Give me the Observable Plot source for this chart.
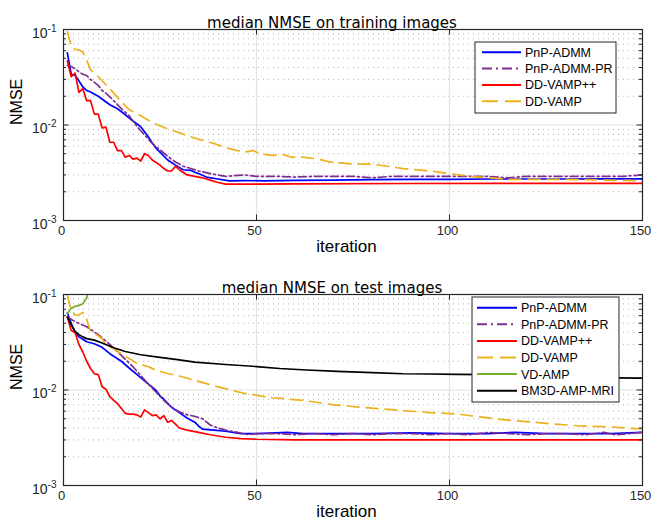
<!DOCTYPE html>
<html><head><meta charset="utf-8">
<script src="https://cdn.jsdelivr.net/npm/d3@7"></script>
<script src="https://cdn.jsdelivr.net/npm/@observablehq/plot@0.6"></script>
<style>
body{margin:0;background:#fff;}
svg{display:block}
</style></head><body><div id="chart"></div>
<script>
// ---- tick values ----
const xTicks = [0, 50, 100, 150];
const yMajor = [1e-3, 1e-2, 1e-1];
const yMinor = [2,3,4,5,6,7,8,9].map(m => m * 1e-3).concat([2,3,4,5,6,7,8,9].map(m => m * 1e-2));

// ---- titles / labels ----
const titleTrain = "median NMSE on training images";
const titleTest = "median NMSE on test images";
const xLabel = "iteration";
const yLabel = "NMSE";

// ---- series names & styles ----
const names = ["PnP-ADMM", "PnP-ADMM-PR", "DD-VAMP++", "DD-VAMP", "VD-AMP", "BM3D-AMP-MRI"];
const colors = ["#0000ff", "#7e2f8e", "#ff0000", "#edb120", "#77ac30", "#000000"];
const dashes = [null, "8,3,2,3", null, "12,7", null, null];

// ---- training images: [iteration, NMSE] ----
const trainPnP = [[1,0.057],[2,0.034],[3,0.033],[4,0.029],[5,0.025],[6,0.0230],[7,0.0222],[9,0.0200],[12,0.0163],[14,0.0148],[16,0.0128],[18,0.0110],[20,0.0096],[21,0.0085],[22,0.0075],[23,0.0065],[24,0.0057],[25,0.0052],[27,0.0043],[29,0.0038],[30,0.0036],[31,0.0034],[33,0.00335],[34,0.0032],[35,0.0031],[37,0.00285],[40,0.00272],[43,0.0026],[47,0.00262],[52,0.0026],[60,0.00263],[70,0.00265],[80,0.00268],[90,0.0027],[100,0.0027],[110,0.00272],[120,0.00272],[130,0.00272],[140,0.00273],[150,0.00273]];
const trainPR = [[1,0.042],[2,0.041],[3,0.039],[4,0.036],[5,0.034],[6,0.033],[7,0.030],[8,0.028],[9,0.026],[10,0.023],[11,0.0215],[13,0.018],[15,0.0148],[17,0.0125],[18,0.011],[19,0.0097],[20,0.0087],[21,0.0079],[22,0.0071],[23,0.0064],[24,0.0059],[25,0.0055],[27,0.0047],[29,0.0041],[31,0.0037],[33,0.0035],[35,0.0033],[38,0.0031],[42,0.0029],[47,0.0030],[50,0.0029],[55,0.0029],[60,0.00285],[65,0.0029],[70,0.0029],[75,0.0029],[80,0.0028],[85,0.0029],[90,0.0029],[100,0.0029],[110,0.0029],[115,0.0028],[120,0.0029],[125,0.0029],[130,0.0029],[140,0.0029],[145,0.0029],[150,0.0030]];
const trainDDpp = [[1,0.047],[2,0.032],[3,0.035],[4,0.022],[5,0.024],[6,0.018],[7,0.018],[8,0.013],[9,0.013],[10,0.0093],[11,0.0095],[12,0.0066],[13,0.0066],[14,0.0054],[15,0.0054],[16,0.0046],[17,0.0048],[18,0.0044],[19,0.0045],[20,0.0042],[21,0.0050],[22,0.0048],[23,0.0043],[25,0.0038],[26,0.0035],[27,0.0033],[28,0.0033],[29,0.0037],[30,0.0034],[32,0.0030],[34,0.0029],[36,0.0028],[38,0.00265],[40,0.00250],[42,0.0024],[45,0.0024],[60,0.00242],[90,0.00244],[120,0.00245],[150,0.00245]];
const trainDD = [[1,0.095],[2,0.068],[3,0.062],[4,0.061],[5,0.058],[6,0.048],[7,0.038],[9,0.032],[12,0.024],[15,0.0175],[17,0.0145],[20,0.0125],[23,0.0106],[27,0.0091],[30,0.0083],[33,0.0075],[36,0.0069],[39,0.0064],[42,0.0058],[45,0.0054],[47,0.0052],[49,0.0054],[51,0.0050],[54,0.0048],[57,0.0049],[59,0.0046],[62,0.0046],[66,0.0044],[69,0.0041],[75,0.0039],[80,0.0039],[88,0.0035],[95,0.0033],[100,0.0031],[105,0.0029],[110,0.0028],[115,0.0027],[120,0.0027],[130,0.0027],[140,0.00265],[150,0.0026]];

// ---- test images: [iteration, NMSE] ----
const testPnP = [[1,0.064],[2,0.050],[3,0.040],[4,0.036],[5,0.034],[6,0.032],[8,0.0305],[10,0.028],[12,0.024],[15,0.020],[17,0.017],[20,0.0135],[22,0.0115],[24,0.0099],[25,0.0087],[26,0.0080],[28,0.0066],[30,0.0058],[32,0.0051],[34,0.0046],[35,0.0042],[36,0.0039],[39,0.0038],[42,0.0037],[46,0.0035],[50,0.0035],[55,0.00355],[58,0.0036],[62,0.0035],[70,0.0035],[80,0.0035],[90,0.00355],[100,0.0035],[110,0.0035],[117,0.0036],[125,0.0035],[135,0.0035],[142,0.0035],[150,0.0036]];
const testPR = [[1,0.058],[3,0.052],[6,0.046],[9,0.038],[12,0.030],[15,0.023],[18,0.0175],[20,0.0142],[22,0.0115],[24,0.0095],[26,0.0078],[28,0.0066],[30,0.0059],[32,0.0055],[34,0.0053],[36,0.0050],[38,0.0043],[40,0.0040],[42,0.0038],[45,0.0036],[48,0.0034],[50,0.0035],[55,0.0035],[60,0.0034],[65,0.0035],[70,0.0034],[75,0.0035],[80,0.0034],[85,0.0035],[90,0.0035],[95,0.0034],[100,0.0035],[105,0.0034],[110,0.0036],[115,0.0035],[120,0.0034],[125,0.0035],[130,0.0035],[135,0.0034],[140,0.0036],[143,0.0034],[150,0.0036]];
const testDDpp = [[1,0.058],[2,0.042],[3,0.040],[4,0.030],[5,0.025],[6,0.020],[7,0.0168],[8,0.0148],[9,0.0145],[10,0.0108],[11,0.0102],[12,0.0085],[13,0.0078],[14,0.0072],[15,0.0064],[16,0.0057],[17,0.0056],[18,0.0056],[19,0.0055],[20,0.0052],[21,0.0062],[22,0.0058],[23,0.0054],[24,0.0055],[25,0.0050],[26,0.0054],[27,0.0046],[28,0.0048],[29,0.0044],[30,0.0040],[32,0.0038],[35,0.0036],[38,0.0034],[42,0.0032],[46,0.0031],[50,0.00305],[60,0.0030],[90,0.0030],[120,0.0030],[150,0.0030]];
const testDD = [[1,0.098],[2,0.068],[3,0.061],[4,0.061],[5,0.065],[6,0.055],[7,0.041],[9,0.037],[10,0.0345],[11,0.030],[13,0.027],[15,0.024],[17,0.0214],[19,0.019],[22,0.0175],[24,0.0161],[27,0.0149],[30,0.0140],[34,0.0126],[40,0.0108],[47,0.0092],[54,0.0083],[62,0.0078],[70,0.0070],[79,0.0065],[88,0.0061],[95,0.0058],[102,0.0056],[110,0.0051],[116,0.0048],[122,0.0046],[127,0.0044],[134,0.0042],[142,0.0041],[150,0.0039]];
const testVD = [[1,0.063],[2,0.072],[3,0.075],[4,0.077],[5,0.080],[6,0.092],[7,0.13]];
const testBM3D = [[1,0.058],[2,0.048],[3,0.041],[4,0.038],[5,0.036],[6,0.0345],[8,0.0333],[10,0.0310],[13,0.0277],[16,0.0253],[20,0.0234],[25,0.0220],[30,0.0207],[34,0.0196],[42,0.0185],[50,0.0176],[56,0.0168],[63,0.0162],[71,0.0157],[80,0.0152],[88,0.0148],[95,0.0147],[102,0.0146],[110,0.0145],[120,0.0141],[130,0.0137],[143,0.0134],[150,0.0133]];

const trainSeries = [trainPnP, trainPR, trainDDpp, trainDD];
const testSeries = [testPnP, testPR, testDDpp, testDD, testVD, testBM3D];

const W = 651, mL = 63, mR = 9, mB = 42;
const axisColor = "#262626";

function panel(title, seriesList, height, marginTop, legend) {
  const fw = W - mL - mR, fh = height - marginTop - mB;
  const lines = seriesList.map((data, i) => Plot.line(data, {
    x: d => d[0], y: d => d[1], stroke: colors[i], strokeWidth: 1.7,
    strokeDasharray: dashes[i], clip: true
  }));
  const svg = Plot.plot({
    width: W, height, marginLeft: mL, marginRight: mR, marginTop, marginBottom: mB,
    x: {domain: [0, 150], axis: null},
    y: {type: "log", domain: [1e-3, 1e-1], axis: null},
    style: {background: "white", fontFamily: "Liberation Sans, Arial, sans-serif"},
    marks: [
      Plot.ruleY(yMinor, {stroke: "#b4b4b4", strokeDasharray: "1,4", strokeWidth: 1}),
      Plot.ruleX([50, 100], {stroke: "#e2e2e2", strokeWidth: 1.2}),
      Plot.ruleY([1e-2], {stroke: "#e2e2e2", strokeWidth: 1.2}),
      ...lines,
      Plot.tickY(yMajor, {insetRight: fw - 5.5, stroke: axisColor}),
      Plot.tickY(yMajor, {insetLeft: fw - 5.5, stroke: axisColor}),
      Plot.tickY(yMinor, {insetRight: fw - 3, stroke: axisColor}),
      Plot.tickY(yMinor, {insetLeft: fw - 3, stroke: axisColor}),
      Plot.tickX(xTicks, {insetTop: fh - 5.5, stroke: axisColor}),
      Plot.tickX(xTicks, {insetBottom: fh - 5.5, stroke: axisColor}),
      Plot.frame({stroke: axisColor, strokeWidth: 1.2}),
      Plot.text(xTicks, {x: d => d, frameAnchor: "bottom", dy: 14.5, dx: -2, text: d => String(d),
        fontSize: 13, fill: axisColor, fontFamily: "Liberation Sans"}),
      Plot.text(yMajor, {y: d => d, frameAnchor: "left", dx: -7, dy: 4, textAnchor: "end",
        text: d => "10^" + Math.round(Math.log10(d)), fontSize: 14, fill: axisColor,
        fontFamily: "Liberation Sans"}),
      Plot.text([title], {frameAnchor: "top", dy: -12.6, dx: -21, fontSize: 15, fill: "#000",
        fontFamily: "DejaVu Sans"}),
      Plot.text([yLabel], {frameAnchor: "left", rotate: -90, dx: -47, fontSize: 16, fill: "#000",
        fontFamily: "Liberation Sans"}),
      Plot.text([xLabel], {frameAnchor: "bottom", dy: 31.6, dx: -6.5, fontSize: 17, fill: "#000",
        fontFamily: "Liberation Sans"})
    ]
  });
  // superscript exponents on y tick labels
  d3.select(svg).selectAll("text").each(function () {
    const t = this.textContent;
    if (t.indexOf("^") < 0) return;
    const parts = t.split("^");
    this.textContent = parts[0];
    d3.select(this).append("tspan").attr("dy", "-6").attr("font-size", "10px").text(parts[1]);
  });
  // legend
  const g = d3.select(svg).append("g").attr("aria-label", "legend");
  g.append("rect").attr("x", legend.x0).attr("y", legend.y0)
    .attr("width", legend.x1 - legend.x0).attr("height", legend.y1 - legend.y0)
    .attr("fill", "white").attr("stroke", axisColor).attr("stroke-width", 1);
  seriesList.forEach((_, i) => {
    const y = legend.row0 + i * legend.step;
    g.append("line").attr("x1", legend.s0).attr("x2", legend.s1).attr("y1", y).attr("y2", y)
      .attr("stroke", colors[i]).attr("stroke-width", 2)
      .attr("stroke-dasharray", i === 3 ? "16,7" : (i === 1 ? "10,4,2,4" : null));
    g.append("text").attr("x", legend.tx).attr("y", y + 4.5).attr("text-anchor", "start")
      .attr("font-family", "Liberation Sans").attr("font-size", "12.5px").attr("fill", "#000")
      .text(names[i]);
  });
  return svg;
}

const root = document.getElementById("chart");
root.appendChild(panel(titleTrain, trainSeries, 262, 29,
  {x0: 475, x1: 616, y0: 42, y1: 113, row0: 52.3, step: 16.3, s0: 482, s1: 521, tx: 525}));
root.appendChild(panel(titleTest, testSeries, 265, 32,
  {x0: 472, x1: 619, y0: 35, y1: 140, row0: 45.7, step: 16.6, s0: 477, s1: 517, tx: 521}));
</script>
</body></html>
